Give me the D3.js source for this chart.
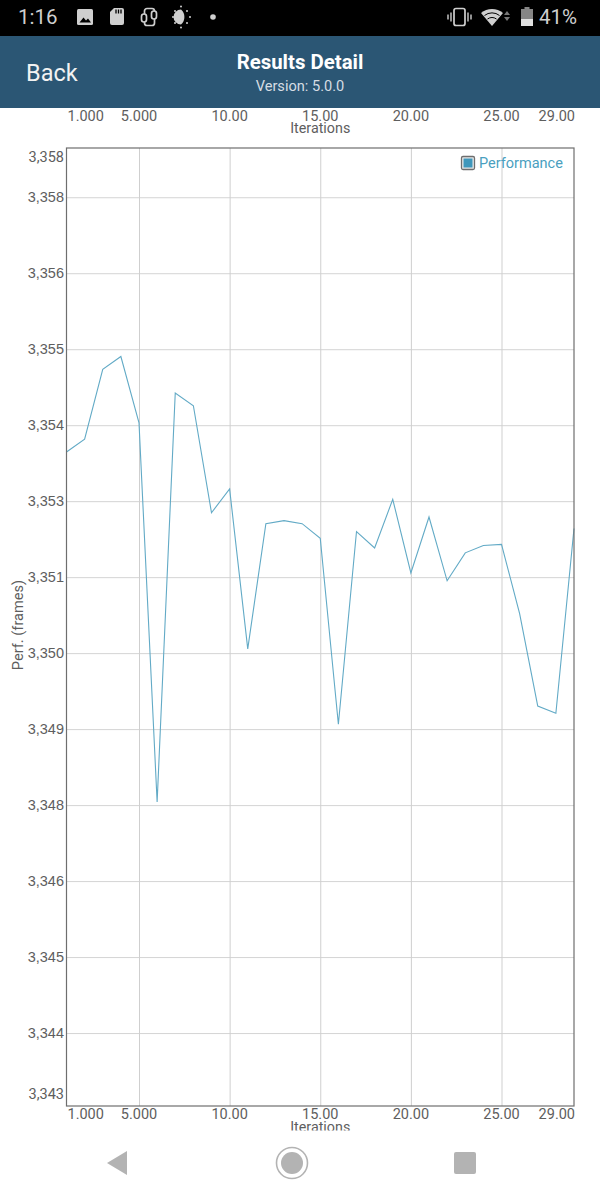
<!DOCTYPE html>
<html><head><meta charset="utf-8">
<script src="https://cdn.jsdelivr.net/npm/d3@7"></script>
<style>
html,body{margin:0;padding:0;background:#fff}
svg{display:block;font-family:Roboto,sans-serif}
</style></head><body><div id="chart"></div>
<script>
const iterations=[1,2,3,4,5,6,7,8,9,10,11,12,13,14,15,16,17,18,19,20,21,22,23,24,25,26,27,28,29];
const performance_=[3353.46,3353.67,3354.82,3355.03,3353.94,3347.70,3354.43,3354.22,3352.46,3352.85,3350.22,3352.28,3352.33,3352.28,3352.04,3348.98,3352.15,3351.88,3352.68,3351.47,3352.39,3351.34,3351.80,3351.92,3351.94,3350.80,3349.28,3349.16,3352.20];
const xTicks=[1,5,10,15,20,25,29];
const yGrid=[3343.9,3345.15,3346.4,3347.65,3348.9,3350.15,3351.4,3352.65,3353.9,3355.15,3356.4,3357.65];
const yDomain=[3342.7,3358.46];
const seriesName="Performance", xTitle="Iterations", yTitle="Perf. (frames)";
const W=600,H=1200,L=66.5,R=574,T=148,B=1106;
const svg=d3.select("#chart").append("svg").attr("width",W).attr("height",H);
const x=d3.scaleLinear().domain([1,29]).range([L,R]);
const y=d3.scaleLinear().domain(yDomain).range([B,T]);
const fx=d3.format(".4r"), fy=d3.format(",.0f");
const txt="#5e5e5e";

// grid
svg.append("g").attr("transform",`translate(${L},0)`)
 .call(d3.axisLeft(y).tickValues(yGrid).tickSize(-(R-L)).tickFormat(fy))
 .call(g=>{g.select(".domain").remove();
  g.selectAll("line").attr("stroke","#d4d4d4").attr("stroke-width",1);
  g.selectAll("text").attr("fill",txt).attr("font-size",14.5).attr("x",-2.5);});
svg.append("g").attr("transform",`translate(0,${B})`)
 .call(d3.axisBottom(x).tickValues(xTicks.slice(1,-1)).tickSize(-(B-T)).tickFormat(""))
 .call(g=>{g.select(".domain").remove();g.selectAll("line").attr("stroke","#cfcfcf").attr("stroke-width",1);});

// axis end labels (pulled inside the plot height)
svg.append("g").selectAll("text").data(yDomain).join("text")
 .attr("x",L-2.5).attr("text-anchor","end").attr("font-size",14.5).attr("fill",txt)
 .attr("y",(d,i)=>y(d)+(i?14:-7)).text(fy);

// line
svg.append("path").datum(performance_)
 .attr("fill","none").attr("stroke","#62aac6").attr("stroke-width",1.1)
 .attr("d",d3.line().x((d,i)=>x(iterations[i])).y(d=>y(d)));

// frame
svg.append("rect").attr("x",L).attr("y",T).attr("width",R-L).attr("height",B-T)
 .attr("fill","none").attr("stroke","#6e6e6e").attr("stroke-width",1.2);

// x labels top and bottom
function xLabels(cy,titleY){
 const g=svg.append("g");
 g.selectAll("text.t").data(xTicks).join("text").attr("class","t")
  .attr("x",d=>d===1||d===29?x(d)+1:x(d))
  .attr("text-anchor",d=>d===1?"start":d===29?"end":"middle")
  .attr("y",cy).attr("font-size",14.5).attr("fill",txt).text(fx);
 g.append("text").attr("x",(L+R)/2).attr("y",titleY).attr("text-anchor","middle")
  .attr("font-size",14.3).attr("fill",txt).text(xTitle);
}
xLabels(120.5,132.5);
xLabels(1119,1132);
svg.append("rect").attr("x",0).attr("y",1130.5).attr("width",W).attr("height",70).attr("fill","#fff");

// y title
svg.append("text").attr("transform","translate(22.5,625) rotate(-90)").attr("text-anchor","middle")
 .attr("font-size",14.6).attr("fill",txt).text(yTitle);

// legend
svg.append("rect").attr("x",461.5).attr("y",156.5).attr("width",13).attr("height",13).attr("rx",1.5)
 .attr("fill","#e8e8e8").attr("stroke","#6e6e6e").attr("stroke-width",1.3);
svg.append("rect").attr("x",463.5).attr("y",158.5).attr("width",9).attr("height",9).attr("fill","#3f97bb");
svg.append("text").attr("x",479).attr("y",168).attr("font-size",14.5).attr("fill","#4a9fc0").text(seriesName);

// header
svg.append("rect").attr("width",W).attr("height",36).attr("fill","#000");
svg.append("rect").attr("y",36).attr("width",W).attr("height",72).attr("fill","#2b5674");
svg.append("text").attr("x",26).attr("y",81).attr("font-size",23.5).attr("fill","#f2f2f2").text("Back");
svg.append("text").attr("x",300).attr("y",69).attr("text-anchor","middle").attr("font-size",20.4).attr("font-weight",700).attr("fill","#fff").text("Results Detail");
svg.append("text").attr("x",300).attr("y",91).attr("text-anchor","middle").attr("font-size",14.6).attr("fill","#d6dde3").text("Version: 5.0.0");

// status bar
const c="#cfcfcf";
const sb=svg.append("g").attr("fill",c);
sb.append("text").attr("x",18).attr("y",24).attr("font-size",20.5).text("1:16");
sb.append("rect").attr("x",77).attr("y",9).attr("width",16).attr("height",16).attr("rx",1.5);
sb.append("path").attr("d","M79.5 22.5l4-5 2.5 3 2-2 3 4z").attr("fill","#000");
sb.append("path").attr("d","M114 8h8a2 2 0 0 1 2 2v13a2 2 0 0 1-2 2h-10a2 2 0 0 1-2-2v-11z");
sb.append("path").attr("d","M116 9.5v4M118.5 9.5v4M121 9.5v4").attr("stroke","#000").attr("stroke-width",1.3);
const ic=svg.append("g").attr("fill","none").attr("stroke",c).attr("stroke-width",1.7);
ic.append("rect").attr("x",144.5).attr("y",8.5).attr("width",10).attr("height",17).attr("rx",2.5);
ic.append("rect").attr("x",141.5).attr("y",14).attr("width",5).attr("height",8).attr("rx",2.4).attr("fill","#000");
ic.append("rect").attr("x",151.5).attr("y",11).attr("width",5).attr("height",8).attr("rx",2.4).attr("fill","#000");
sb.append("path").attr("d","M181 9.5a7.5 7.5 0 0 0 0 15a10 10 0 0 0 0-15z");
sb.append("g").selectAll("circle").data([[181,6.5],[181,27.5],[173,17],[190,17],[175,11],[175,23],[187,11],[187,23]]).join("circle")
 .attr("cx",d=>d[0]).attr("cy",d=>d[1]).attr("r",1);
sb.append("circle").attr("cx",213).attr("cy",17).attr("r",2.8);
ic.append("rect").attr("x",454).attr("y",8.5).attr("width",11).attr("height",17).attr("rx",2);
ic.append("path").attr("d","M451 12.5v9M468 12.5v9").attr("stroke-width",1.4);
ic.append("path").attr("d","M448 14.5v5M471 14.5v5").attr("stroke-width",1.4);
sb.append("path").attr("d","M481 13a17 17 0 0 1 22 0l-11 13z");
sb.append("g").attr("stroke","#000").attr("stroke-width",1).attr("fill","none").selectAll("path")
 .data(["M484.5 15.5a12 12 0 0 1 15 0","M487.5 19a8 8 0 0 1 9 0"]).join("path").attr("d",d=>d);
sb.append("path").attr("d","M504 15l3-4 3 4zM504 17l3 4 3-4z").attr("fill","#777");
sb.append("rect").attr("x",521).attr("y",9).attr("width",12).attr("height",17).attr("fill","#858585");
sb.append("rect").attr("x",521).attr("y",19).attr("width",12).attr("height",7).attr("fill","#e0e0e0");
sb.append("rect").attr("x",524.5).attr("y",7).attr("width",5).attr("height",2).attr("fill","#858585");
sb.append("text").attr("x",539).attr("y",24).attr("font-size",20.5).text("41%");

// nav bar
const nav=svg.append("g").attr("fill","#b3b3b3");
nav.append("path").attr("d","M107 1163l20-12v24z");
nav.append("circle").attr("cx",292).attr("cy",1163).attr("r",11);
nav.append("circle").attr("cx",292).attr("cy",1163).attr("r",15.5).attr("fill","none").attr("stroke","#b3b3b3").attr("stroke-width",1.6);
nav.append("rect").attr("x",454).attr("y",1152).attr("width",22).attr("height",22).attr("rx",2);
</script></body></html>
